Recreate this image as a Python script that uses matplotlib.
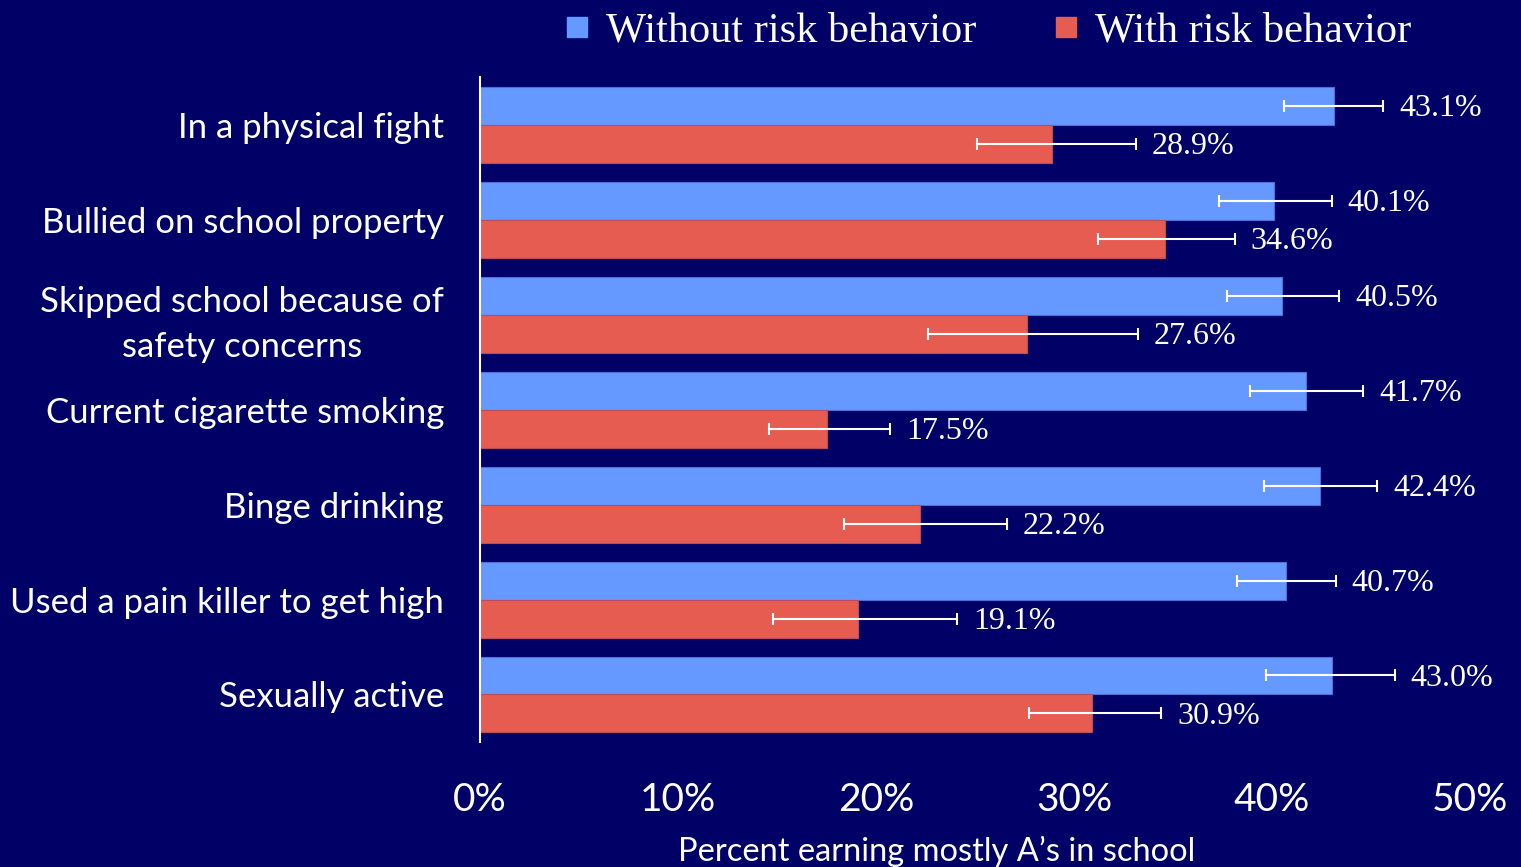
import numpy as np
import matplotlib
matplotlib.use("Agg")
import matplotlib.pyplot as plt
from matplotlib.lines import Line2D

BG = "#000066"
BLUE = "#6699FF"
RED = "#E65C50"

categories = ["In a physical fight", "Bullied on school property",
              "Skipped school because of\nsafety concerns", "Current cigarette smoking",
              "Binge drinking", "Used a pain killer to get high", "Sexually active"]
without_vals = [43.1, 40.1, 40.5, 41.7, 42.4, 40.7, 43.0]
without_lo = [40.6, 37.3, 37.7, 38.9, 39.6, 38.2, 39.7]
without_hi = [45.6, 43.0, 43.4, 44.6, 45.3, 43.2, 46.2]
with_vals = [28.9, 34.6, 27.6, 17.5, 22.2, 19.1, 30.9]
with_lo = [25.1, 31.2, 22.6, 14.6, 18.4, 14.8, 27.7]
with_hi = [33.1, 38.1, 33.2, 20.7, 26.6, 24.1, 34.4]
xticks = [0, 10, 20, 30, 40, 50]

fig = plt.figure(figsize=(15.21, 8.67), dpi=100, facecolor=BG)
ax = fig.add_axes([0.3156, 0.1442, 0.651, 0.7668], facecolor=BG)

y = np.arange(len(categories))
h = 0.4
wv = np.array(without_vals)
rv = np.array(with_vals)
ax.barh(y - h/2, wv, height=h, color=BLUE, edgecolor="#4F6FD8", linewidth=0.8)
ax.barh(y + h/2, rv, height=h, color=RED, edgecolor="#B84C60", linewidth=0.8)

# asymmetric error bars
ax.errorbar(wv, y - h/2, xerr=[wv - np.array(without_lo), np.array(without_hi) - wv],
            fmt="none", ecolor="white", elinewidth=1.5, capsize=4, capthick=1.5)
ax.errorbar(rv, y + h/2, xerr=[rv - np.array(with_lo), np.array(with_hi) - rv],
            fmt="none", ecolor="white", elinewidth=1.5, capsize=4, capthick=1.5)

for i in range(len(categories)):
    ax.text(without_hi[i] + 0.8, y[i] - h/2 + 0.03, f"{without_vals[i]:.1f}%", color="white",
            fontsize=23, family="Liberation Serif", va="center", ha="left")
    ax.text(with_hi[i] + 0.8, y[i] + h/2 + 0.03, f"{with_vals[i]:.1f}%", color="white",
            fontsize=23, family="Liberation Serif", va="center", ha="left")

ax.set_xlim(0, 50)
ax.set_ylim(len(categories) - 0.5, -0.5)
ax.set_xticks(xticks)
ax.set_xticklabels([f"{t}%" for t in xticks], fontsize=28, color="white", family="Lato")
ax.set_yticks(y)
ax.set_yticklabels(categories, fontsize=25, color="white", family="Lato",
                   multialignment="center", linespacing=1.5)
ax.tick_params(axis="x", length=0, pad=29)
ax.tick_params(axis="y", length=0, pad=26)
for s in ["top", "right", "bottom"]:
    ax.spines[s].set_visible(False)
ax.spines["left"].set_color("white")
ax.spines["left"].set_linewidth(1.5)

fig.text(0.616, 0.018, "Percent earning mostly A\u2019s in school", color="white",
         fontsize=23.5, family="Lato", ha="center", va="center")

handles = [Line2D([], [], marker="s", linestyle="none", markersize=15, color=BLUE),
           Line2D([], [], marker="s", linestyle="none", markersize=15, color=RED)]
leg = fig.legend(handles, ["Without risk behavior", "With risk behavior"], ncol=2,
                 loc="center", bbox_to_anchor=(0.648, 0.964), frameon=False,
                 prop={"family": "Liberation Serif", "size": 30.5}, labelcolor="white",
                 handletextpad=0.3, columnspacing=1.7, handlelength=0.8)

fig.savefig("out.png", dpi=100, facecolor=BG)
